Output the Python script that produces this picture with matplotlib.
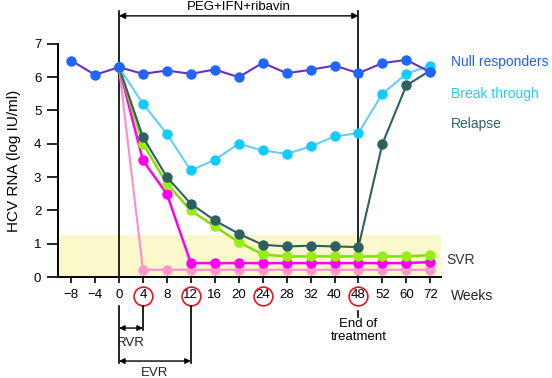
import numpy as np
import matplotlib
matplotlib.use("Agg")
import matplotlib.pyplot as plt

plt.rcParams['font.family'] = ['Liberation Sans', 'DejaVu Sans']

weeks = ['\u22128', '\u22124', '0', '4', '8', '12', '16', '20', '24', '28', '32', '40', '48', '52', '60', '72']
circled = ['4', '12', '24', '48']

null_resp = [6.5, 6.07, 6.3, 6.1, 6.2, 6.1, 6.23, 6.0, 6.43, 6.12, 6.22, 6.35, 6.12, 6.42, 6.52, 6.15]
break_through = [6.3, 5.2, 4.3, 3.2, 3.52, 4.0, 3.8, 3.7, 3.92, 4.22, 4.32, 5.5, 6.1, 6.35]
relapse = [6.3, 4.2, 3.0, 2.2, 1.7, 1.3, 0.97, 0.92, 0.94, 0.92, 0.9, 4.0, 5.75, 6.2]
svr_green = [6.3, 4.0, 2.8, 2.0, 1.52, 1.05, 0.68, 0.62, 0.62, 0.62, 0.62, 0.62, 0.62, 0.66]
svr_magenta = [6.3, 3.5, 2.5, 0.42, 0.42, 0.42, 0.42, 0.42, 0.42, 0.42, 0.42, 0.42, 0.42, 0.45]
svr_pink = [6.3, 0.22, 0.22, 0.22, 0.22, 0.22, 0.22, 0.22, 0.22, 0.22, 0.22, 0.22, 0.22, 0.22]

fig = plt.figure(figsize=(5.52, 3.78), dpi=100)
ax = fig.add_axes([0.105, 0.267, 0.694, 0.617])

x_all = np.arange(len(weeks))
x_tr = x_all[2:]
ms = 7.5

# SVR band
ax.axhspan(0, 1.26, color='#fbf8cc', zorder=0, lw=0)

ax.plot(x_tr, svr_pink, '-o', color='#ff8ccc', mfc='#ff99cc', mec='none', ms=ms, lw=1.5, zorder=3, clip_on=False)
ax.plot(x_tr, svr_magenta, '-o', color='#ff00ee', mfc='#ff00ee', mec='none', ms=ms, lw=1.8, zorder=4, clip_on=False)
ax.plot(x_tr, svr_green, '-o', color='#88dd00', mfc='#99ee11', mec='none', ms=ms, lw=1.8, zorder=5, clip_on=False)
ax.plot(x_tr, relapse, '-o', color='#2e6060', mfc='#2e6060', mec='none', ms=ms, lw=1.5, zorder=6, clip_on=False)
ax.plot(x_tr, break_through, '-o', color='#66ccff', mfc='#11ccff', mec='none', ms=ms, lw=1.5, zorder=7, clip_on=False)
ax.plot(x_all, null_resp, '-o', color='#6a2fc0', mfc='#1f66ff', mec='none', ms=ms, lw=1.5, zorder=8, clip_on=False)

ax.set_xlim(-0.55, 15.45)
ax.set_ylim(0, 7)
ax.set_xticks(x_all)
ax.set_xticklabels(weeks, fontsize=9.5)
ax.set_yticks(range(8))
ax.tick_params(axis='y', labelsize=9.5, length=8, width=1.2, pad=4)
ax.tick_params(axis='x', length=4.5, width=1.2, pad=4)
for s in ['top', 'right']:
    ax.spines[s].set_visible(False)
for s in ['left', 'bottom']:
    ax.spines[s].set_linewidth(1.4)
ax.set_ylabel('HCV RNA (log IU/ml)', fontsize=11, labelpad=9)

# treatment period lines
ax.plot([2, 2], [0, 7.98], color='black', lw=1.2, zorder=1, clip_on=False)
ax.plot([12, 12], [0, 7.98], color='black', lw=1.2, zorder=1, clip_on=False)
ax.annotate('', xy=(2, 7.84), xytext=(12, 7.84),
            arrowprops=dict(arrowstyle='<|-|>', color='black', lw=1.0, mutation_scale=9, shrinkA=0, shrinkB=0),
            annotation_clip=False)
ax.text(7, 8.1, 'PEG+IFN+ribavin', ha='center', va='center', fontsize=9.5)

# circled ticks
ytick_lab = -0.57
for lab in circled:
    i = weeks.index(lab)
    ax.plot(i, ytick_lab, 'o', ms=13.5, mfc='none', mec='#ee1122', mew=1.2, clip_on=False)

# RVR / EVR brackets
ax.plot([2, 2], [-0.88, -2.58], color='black', lw=1.2, clip_on=False)
ax.plot([3, 3], [-0.88, -1.6], color='black', lw=1.2, clip_on=False)
ax.plot([5, 5], [-0.88, -2.58], color='black', lw=1.2, clip_on=False)
ax.annotate('', xy=(2, -1.53), xytext=(3, -1.53),
            arrowprops=dict(arrowstyle='<|-|>', color='black', lw=1.0, mutation_scale=8, shrinkA=0, shrinkB=0),
            annotation_clip=False)
ax.annotate('', xy=(2, -2.52), xytext=(5, -2.52),
            arrowprops=dict(arrowstyle='<|-|>', color='black', lw=1.0, mutation_scale=8, shrinkA=0, shrinkB=0),
            annotation_clip=False)
ax.text(2.5, -1.98, 'RVR', ha='center', va='center', fontsize=9.5, color='#222222')
ax.text(3.5, -2.88, 'EVR', ha='center', va='center', fontsize=9.5, color='#222222')

# end of treatment
ax.plot([12, 12], [-1.02, -1.2], color='black', lw=1.2, clip_on=False)
ax.text(12, -1.6, 'End of\ntreatment', ha='center', va='center', fontsize=9.5, linespacing=1.15)

# right side labels
ax.text(15.85, 6.45, 'Null responders', color='#1f5fff', fontsize=10, va='center', ha='left')
ax.text(15.85, 5.5, 'Break through', color='#22ccff', fontsize=10, va='center', ha='left')
ax.text(15.85, 4.6, 'Relapse', color='#336666', fontsize=10, va='center', ha='left')
ax.text(15.65, 0.5, 'SVR', color='#333333', fontsize=10, va='center', ha='left')
ax.text(15.85, ytick_lab, 'Weeks', color='#222222', fontsize=10, va='center', ha='left')

fig.savefig('out.png', dpi=100)
